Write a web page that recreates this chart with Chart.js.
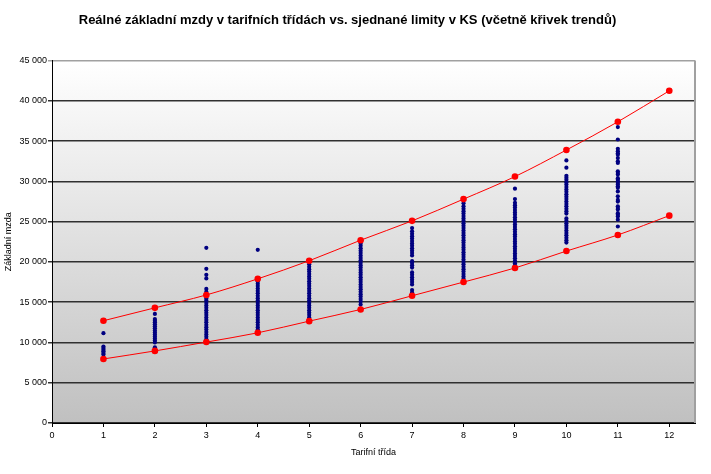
<!DOCTYPE html>
<html lang="cs">
<head>
<meta charset="utf-8">
<title>Reálné základní mzdy v tarifních třídách</title>
<script src="https://cdn.jsdelivr.net/npm/chart.js@4.4.1/dist/chart.umd.min.js"></script>
<style>
  body { margin: 0; background: #fff; }
  #graf { display: block; }
</style>
</head>
<body>
<canvas id="graf" width="711" height="474"></canvas>
<script>
// ================================
// Data
// ================================
const tridy = [1, 2, 3, 4, 5, 6, 7, 8, 9, 10, 11, 12]

// sjednané limity v KS (horní / dolní)
const limitHorni = [12700, 14300, 15900, 17900, 20150, 22700, 25100, 27800, 30600, 33900, 37400, 41250]
const limitDolni = [7950, 8950, 10050, 11200, 12650, 14100, 15800, 17500, 19250, 21350, 23350, 25750]

// reálné základní mzdy podle tarifních tříd
const mzdyT1 = [8500, 8700, 8900, 9100, 9300, 9500, 11150]
const mzdyT2 = [9400, 10000, 10250, 10500, 10750, 11000, 11250, 11500, 11750, 12000, 12250, 12500, 12700, 12900, 13550]
const mzdyT3 = [10100, 10400, 10700, 11000, 11300, 11600, 11900, 12200, 12500, 12800, 13100, 13400, 13700, 14000, 14300,
  14600, 14900, 15200, 15450, 15700, 16300, 16650, 17950, 18400, 19150, 21750]
const mzdyT4 = [11300, 11600, 11900, 12200, 12500, 12800, 13100, 13400, 13700, 14000, 14300, 14600, 14900, 15200, 15500,
  15800, 16100, 16400, 16700, 17000, 17300, 17600, 17900, 21500]
const mzdyT5 = [12800, 13100, 13400, 13700, 14000, 14300, 14600, 14900, 15200, 15500, 15800, 16100, 16400, 16700, 17000,
  17300, 17600, 17900, 18200, 18500, 18800, 19100, 19400, 19700, 20000, 20200]
const mzdyT6 = [14700, 15100, 15400, 15700, 16000, 16300, 16600, 16900, 17200, 17500, 17800, 18100, 18400, 18700, 19000,
  19300, 19600, 19900, 20200, 20500, 20800, 21100, 21400, 21700, 22000, 22300]
const mzdyT7 = [15900, 16200, 16500, 17200, 17500, 17800, 18100, 18400, 18700, 19300, 19600, 19900, 20100, 20800, 21100,
  21400, 21700, 22000, 22300, 22600, 22900, 23200, 23500, 23800, 24200]
const mzdyT8 = [17600, 17900, 18200, 18500, 18800, 19100, 19400, 19700, 20000, 20300, 20600, 20900, 21200, 21500, 21800,
  22100, 22400, 22700, 23000, 23300, 23600, 23900, 24200, 24500, 24800, 25100, 25400, 25700, 26000, 26300, 26600, 26900, 27300]
const mzdyT9 = [19250, 19550, 19850, 20150, 20450, 20750, 21050, 21350, 21650, 21950, 22250, 22550, 22850, 23150, 23450,
  23750, 24050, 24350, 24650, 24950, 25250, 25550, 25850, 26150, 26450, 26750, 27050, 27350, 27800, 29100]
const mzdyT10 = [22400, 22700, 23000, 23300, 23600, 23900, 24200, 24500, 24800, 25100, 25400, 26000, 26300, 26600, 26900,
  27200, 27500, 27800, 28100, 28400, 28700, 29000, 29300, 29600, 29900, 30200, 30450, 30700, 31700, 32600]
const mzdyT11 = [24400, 25250, 25650, 25850, 26050, 26500, 26700, 26900, 27500, 27700, 28150, 28750, 29200, 29400, 29600,
  29800, 30000, 30200, 30400, 30850, 31050, 31250, 32300, 32500, 32900, 33300, 33500, 33750, 34050, 35200, 36750]

const mzdyPodleTrid = [mzdyT1, mzdyT2, mzdyT3, mzdyT4, mzdyT5, mzdyT6, mzdyT7, mzdyT8, mzdyT9, mzdyT10, mzdyT11]

// osy
const osaXMin = 0
const osaXMax = 12.5
const osaYMin = 0
const osaYMax = 45000
const osaYKrok = 5000

// ================================
// Pomocné funkce
// ================================
function formatCislo(v) {
  return String(v).replace(/\B(?=(\d{3})+(?!\d))/g, " ")
}

const bodyMzdy = mzdyPodleTrid.flatMap((hodnoty, i) =>
  hodnoty.map((v) => ({ x: tridy[i], y: v }))
)

// pozadí plochy grafu (přechod bílá -> šedá) + šedý rámeček vpravo
const pozadiPlochy = {
  id: "pozadiPlochy",
  beforeDraw(chart) {
    const { ctx, chartArea: a } = chart
    const g = ctx.createLinearGradient(0, a.top, 0, a.bottom)
    g.addColorStop(0, "#ffffff")
    g.addColorStop(1, "#c0c0c0")
    ctx.save()
    ctx.fillStyle = g
    ctx.fillRect(a.left, a.top, a.right - a.left, a.bottom - a.top)
    ctx.restore()
  },
  beforeDatasetsDraw(chart) {
    const { ctx, chartArea: a } = chart
    ctx.save()
    ctx.strokeStyle = "#a0a0a0"
    ctx.lineWidth = 2
    ctx.beginPath()
    ctx.moveTo(a.right, a.top)
    ctx.lineTo(a.right, a.bottom)
    ctx.stroke()
    ctx.restore()
  },
}

const pismo = "Arial, 'Liberation Sans', sans-serif"

// ================================
// Graf
// ================================
new Chart(document.getElementById("graf"), {
  type: "scatter",
  data: {
    datasets: [
      {
        label: "Horní limit",
        type: "line",
        data: tridy.map((t, i) => ({ x: t, y: limitHorni[i] })),
        borderColor: "#ff0000",
        backgroundColor: "#ff0000",
        borderWidth: 1,
        pointRadius: 3.3,
        pointBorderWidth: 0,
        tension: 0.4,
        cubicInterpolationMode: "monotone",
        order: 1,
      },
      {
        label: "Dolní limit",
        type: "line",
        data: tridy.map((t, i) => ({ x: t, y: limitDolni[i] })),
        borderColor: "#ff0000",
        backgroundColor: "#ff0000",
        borderWidth: 1,
        pointRadius: 3.3,
        pointBorderWidth: 0,
        tension: 0.4,
        cubicInterpolationMode: "monotone",
        order: 2,
      },
      {
        label: "Základní mzda",
        data: bodyMzdy,
        backgroundColor: "#000080",
        borderColor: "#000080",
        pointRadius: 2.1,
        pointBorderWidth: 0,
        order: 3,
      },
    ],
  },
  options: {
    responsive: false,
    animation: false,
    layout: { padding: { left: 0, right: 16, top: 0, bottom: 0 } },
    plugins: {
      legend: { display: false },
      tooltip: { enabled: false },
      title: {
        display: true,
        text: "Reálné základní mzdy v tarifních třídách vs. sjednané limity v KS (včetně křivek trendů)",
        color: "#000",
        font: { family: pismo, size: 13, weight: "bold", lineHeight: 1.2 },
        padding: { top: 13, bottom: 32 },
      },
    },
    scales: {
      x: {
        type: "linear",
        min: osaXMin,
        max: osaXMax,
        afterFit: (s) => { s.height = 51 },
        ticks: {
          stepSize: 1,
          includeBounds: false,
          color: "#000",
          padding: 3,
          maxRotation: 0,
          font: { family: pismo, size: 9 },
        },
        grid: { drawOnChartArea: false, drawTicks: true, tickLength: 4, color: "#000" },
        border: { color: "#000", width: 1 },
        title: {
          display: true,
          text: "Tarifní třída",
          color: "#000",
          font: { family: pismo, size: 9 },
          padding: { top: 0, bottom: 16 },
        },
      },
      y: {
        min: osaYMin,
        max: osaYMax,
        afterFit: (s) => { s.width = 52 },
        ticks: {
          stepSize: osaYKrok,
          color: "#000",
          padding: 1,
          font: { family: pismo, size: 9 },
          callback: (v) => formatCislo(v),
        },
        grid: {
          tickLength: 4,
          lineWidth: 1.5,
          color: (c) => (c.tick && c.tick.value === osaYMax ? "#a0a0a0" : "#303030"),
        },
        border: { color: "#000", width: 1 },
        title: {
          display: true,
          text: "Základní mzda",
          color: "#000",
          font: { family: pismo, size: 9 },
          padding: { top: 3, bottom: 0 },
        },
      },
    },
  },
  plugins: [pozadiPlochy],
})
</script>
</body>
</html>
